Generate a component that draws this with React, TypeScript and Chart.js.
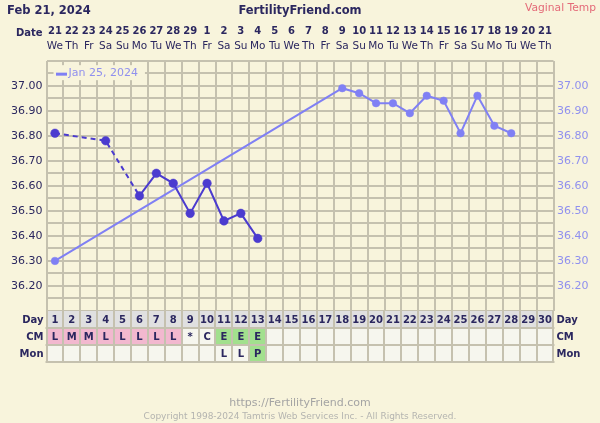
import React, { useEffect, useRef } from 'react';
import { Chart, registerables } from 'chart.js';

Chart.register(...registerables);

// ---- data ----
const chartDate = 'Feb 21, 2024';
const siteTitle = 'FertilityFriend.com';
const tempMethod = 'Vaginal Temp';
const footerUrl = 'https://FertilityFriend.com';
const footerCopyright = 'Copyright 1998-2024 Tamtris Web Services Inc. - All Rights Reserved.';

const dates = ['21', '22', '23', '24', '25', '26', '27', '28', '29', '1', '2', '3', '4', '5', '6', '7', '8', '9', '10', '11', '12', '13', '14', '15', '16', '17', '18', '19', '20', '21'];
const weekdays = ['We', 'Th', 'Fr', 'Sa', 'Su', 'Mo', 'Tu', 'We', 'Th', 'Fr', 'Sa', 'Su', 'Mo', 'Tu', 'We', 'Th', 'Fr', 'Sa', 'Su', 'Mo', 'Tu', 'We', 'Th', 'Fr', 'Sa', 'Su', 'Mo', 'Tu', 'We', 'Th'];
const cycleDays = ['1', '2', '3', '4', '5', '6', '7', '8', '9', '10', '11', '12', '13', '14', '15', '16', '17', '18', '19', '20', '21', '22', '23', '24', '25', '26', '27', '28', '29', '30'];

const currentLabel = 'Feb 21, 2024';
const currentTemps = [36.81, null, null, 36.78, null, 36.56, 36.65, 36.61, 36.49, 36.61, 36.46, 36.49, 36.39, null, null, null, null, null, null, null, null, null, null, null, null, null, null, null, null, null];

const previousLabel = 'Jan 25, 2024';
const previousTemps = [36.30, null, null, null, null, null, null, null, null, null, null, null, null, null, null, null, null, 36.99, 36.97, 36.93, 36.93, 36.89, 36.96, 36.94, 36.81, 36.96, 36.84, 36.81, null, null];

const cmValues = ['L', 'M', 'M', 'L', 'L', 'L', 'L', 'L', '*', 'C', 'E', 'E', 'E', '', '', '', '', '', '', '', '', '', '', '', '', '', '', '', '', ''];
const monValues = ['', '', '', '', '', '', '', '', '', '', 'L', 'L', 'P', '', '', '', '', '', '', '', '', '', '', '', '', '', '', '', '', ''];

const tempTickLabels = ['36.20', '36.30', '36.40', '36.50', '36.60', '36.70', '36.80', '36.90', '37.00'];
const tempMin = 36.1;
const tempMax = 37.1;
const tempStep = 0.05;

const rowLabels = ['Day', 'CM', 'Mon'];

// ---- styles ----
const FONT = '"DejaVu Sans", Verdana, sans-serif';
const BG = '#f8f4dc';
const GRID = '#c5c1af';
const NAVY = '#2b275f';
const DARK = '#4b3bcf';
const LIGHT = '#8080f4';
const LIGHT_TXT = '#9090ee';
const PINK = '#f2b8cf';
const GREEN = '#a2e08e';
const CELL = '#f6f6ee';
const DAYROW = '#e0e0e0';

const cmColor = (v: string) => (v === 'L' || v === 'M' || v === 'H') ? PINK : (v === 'E' ? GREEN : CELL);
const monColor = (v: string) => (v === 'P' ? GREEN : CELL);

const decorPlugin = {
  id: 'decor',
  beforeDraw(chart: any) {
    const { ctx, width, height } = chart;
    ctx.save();
    ctx.fillStyle = BG;
    ctx.fillRect(0, 0, width, height);
    ctx.restore();
  },
  beforeDatasetsDraw(chart: any) {
    // legend for previous cycle
    const { ctx, chartArea } = chart;
    const ds = chart.data.datasets[1];
    ctx.save();
    ctx.font = `11px ${FONT}`;
    const tw = ctx.measureText(ds.label).width;
    const bx = chartArea.left + 7;
    const by = chartArea.top + 4.5;
    ctx.fillStyle = BG;
    ctx.fillRect(bx, by, tw + 22, 15);
    ctx.fillStyle = ds.borderColor;
    ctx.fillRect(bx + 2.5, by + 7.5, 11, 3);
    ctx.fillStyle = LIGHT_TXT;
    ctx.textBaseline = 'middle';
    ctx.textAlign = 'left';
    ctx.fillText(ds.label, bx + 15, by + 8.3);
    ctx.restore();
  },
  afterDraw(chart: any) {
    const { ctx, chartArea, width } = chart;
    const xs = chart.scales.xWeek;
    const colW = xs.getPixelForValue(1) - xs.getPixelForValue(0);
    const rowH = 17;
    const top = chartArea.bottom;
    ctx.save();
    // cells
    for (let i = 0; i < cycleDays.length; i++) {
      const cx = xs.getPixelForValue(i);
      const x0 = cx - colW / 2;
      ctx.fillStyle = DAYROW;
      ctx.fillRect(x0, top, colW, rowH);
      ctx.fillStyle = cmColor(cmValues[i]);
      ctx.fillRect(x0, top + rowH, colW, rowH);
      ctx.fillStyle = monColor(monValues[i]);
      ctx.fillRect(x0, top + 2 * rowH, colW, rowH);
    }
    // lines
    ctx.strokeStyle = GRID;
    ctx.lineWidth = 2;
    ctx.beginPath();
    for (let i = 0; i <= cycleDays.length; i++) {
      const x = Math.round(chartArea.left + i * colW);
      ctx.moveTo(x, top);
      ctx.lineTo(x, top + 3 * rowH);
    }
    for (let r = 1; r <= 3; r++) {
      const y = Math.round(top + r * rowH);
      ctx.moveTo(chartArea.left - 1, y);
      ctx.lineTo(chartArea.right + 1, y);
    }
    ctx.stroke();
    // cell text
    ctx.fillStyle = NAVY;
    ctx.font = `bold 10px ${FONT}`;
    ctx.textAlign = 'center';
    ctx.textBaseline = 'middle';
    for (let i = 0; i < cycleDays.length; i++) {
      const cx = xs.getPixelForValue(i);
      ctx.fillText(cycleDays[i], cx, top + rowH / 2 + 0.5);
      if (cmValues[i]) ctx.fillText(cmValues[i], cx, top + rowH * 1.5 + 0.5);
      if (monValues[i]) ctx.fillText(monValues[i], cx, top + rowH * 2.5 + 0.5);
    }
    // row labels
    rowLabels.forEach((lab, r) => {
      const y = top + rowH * (r + 0.5) + 0.5;
      ctx.textAlign = 'right';
      ctx.fillText(lab, chartArea.left - 3, y);
      ctx.textAlign = 'left';
      ctx.fillText(lab, chartArea.right + 3, y);
    });
    ctx.textAlign = 'right';
    ctx.fillText('Date', chartArea.left - 4, 33);

    // titles
    ctx.textBaseline = 'alphabetic';
    ctx.font = `bold 11.5px ${FONT}`;
    ctx.textAlign = 'left';
    ctx.fillText(chartDate, 7, 14);
    ctx.textAlign = 'center';
    ctx.fillText(siteTitle, width / 2, 14);
    ctx.font = `10.7px ${FONT}`;
    ctx.fillStyle = '#e46a78';
    ctx.textAlign = 'right';
    ctx.fillText(tempMethod, 596, 11);

    // footer
    ctx.textAlign = 'center';
    ctx.fillStyle = '#a4a4a4';
    ctx.font = `11px ${FONT}`;
    ctx.fillText(footerUrl, width / 2, 406);
    ctx.fillStyle = '#b4b4b0';
    ctx.font = `9px ${FONT}`;
    ctx.fillText(footerCopyright, width / 2, 418.5);
    ctx.restore();
  },
};

const tempTick = (value: any) => {
  const s = (Math.round(Number(value) * 100) / 100).toFixed(2);
  return tempTickLabels.includes(s) ? s : '';
};

export default function App() {
  const ref = useRef<HTMLCanvasElement | null>(null);

  useEffect(() => {
    if (!ref.current) return;
    const chart = new Chart(ref.current, {
      type: 'line',
      data: {
        labels: cycleDays,
        datasets: [
          {
            label: currentLabel,
            data: currentTemps,
            borderColor: DARK,
            backgroundColor: DARK,
            pointBackgroundColor: DARK,
            pointBorderColor: DARK,
            pointRadius: 4.3,
            pointHoverRadius: 4.3,
            pointBorderWidth: 0.5,
            borderWidth: 2,
            spanGaps: true,
            xAxisID: 'xWeek',
            yAxisID: 'y',
            segment: {
              borderDash: (ctx: any) => (ctx.p0.skip || ctx.p1.skip ? [5, 4] : undefined),
            },
          },
          {
            label: previousLabel,
            data: previousTemps,
            borderColor: LIGHT,
            backgroundColor: LIGHT,
            pointBackgroundColor: LIGHT,
            pointBorderColor: LIGHT,
            pointRadius: 3.8,
            pointHoverRadius: 3.8,
            pointBorderWidth: 0.5,
            borderWidth: 2,
            spanGaps: true,
            xAxisID: 'xWeek',
            yAxisID: 'y',
          },
        ],
      },
      options: {
        animation: false,
        responsive: false,
        maintainAspectRatio: false,
        events: [],
        layout: { padding: { top: 0, bottom: 112, left: 0, right: 0 } },
        plugins: {
          legend: { display: false },
          tooltip: { enabled: false },
          title: { display: false },
        },
        scales: {
          xDate: {
            type: 'category',
            position: 'top',
            weight: 2,
            labels: dates,
            offset: true,
            grid: { display: false, drawTicks: false },
            border: { display: false },
            ticks: {
              autoSkip: false,
              maxRotation: 0,
              minRotation: 0,
              padding: 3,
              color: NAVY,
              font: { family: FONT, size: 10, weight: 'bold' },
            },
            afterFit: (s: any) => { s.height = 40; },
          },
          xWeek: {
            type: 'category',
            position: 'top',
            weight: 1,
            labels: weekdays,
            offset: true,
            grid: { display: true, offset: true, color: GRID, lineWidth: 2, drawTicks: false },
            border: { display: false },
            ticks: {
              autoSkip: false,
              maxRotation: 0,
              minRotation: 0,
              padding: 8.4,
              color: NAVY,
              font: { family: FONT, size: 10.5 },
            },
            afterFit: (s: any) => { s.height = 20.66; },
          },
          y: {
            type: 'linear',
            position: 'left',
            min: tempMin,
            max: tempMax,
            grid: { color: GRID, lineWidth: 2, drawTicks: false },
            border: { display: false },
            ticks: {
              stepSize: tempStep,
              autoSkip: false,
              padding: 4,
              color: NAVY,
              font: { family: FONT, size: 11 },
              callback: tempTick,
            },
            afterFit: (s: any) => { s.width = 46.5; },
          },
          yRight: {
            type: 'linear',
            position: 'right',
            min: tempMin,
            max: tempMax,
            grid: { display: false, drawTicks: false },
            border: { display: false },
            ticks: {
              stepSize: tempStep,
              autoSkip: false,
              padding: 3.5,
              color: LIGHT_TXT,
              font: { family: FONT, size: 11 },
              callback: tempTick,
            },
            afterFit: (s: any) => { s.width = 46.5; },
          },
        },
      } as any,
      plugins: [decorPlugin],
    });
    return () => chart.destroy();
  }, []);

  return (
    <div style={{ position: 'fixed', left: 0, top: 0, width: 600, height: 423, background: BG }}>
      <canvas ref={ref} width={600} height={423} style={{ display: 'block', width: 600, height: 423 }} />
    </div>
  );
}
